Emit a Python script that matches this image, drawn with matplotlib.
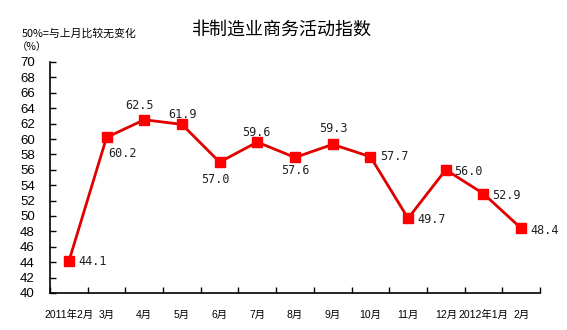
import matplotlib
matplotlib.use("Agg")
import matplotlib.pyplot as plt
import numpy as np

plt.rcParams['font.family'] = ['Liberation Sans', 'Noto Sans CJK SC', 'DejaVu Sans']

months = ["2011年2月", "3月", "4月", "5月", "6月", "7月", "8月", "9月",
          "10月", "11月", "12月", "2012年1月", "2月"]
index = [44.1, 60.2, 62.5, 61.9, 57.0, 59.6, 57.6, 59.3, 57.7, 49.7, 56.0, 52.9, 48.4]
# label offset in pixels (dx, dy) and horizontal alignment per point
label_pos = [(10, 0, 'left'), (2, -16, 'left'), (-5, 14, 'center'), (1, 10, 'center'),
             (-4, -17, 'center'), (-1, 10, 'center'), (0, -13, 'center'), (1, 16, 'center'),
             (10, 0, 'left'), (9, -1, 'left'), (8, -2, 'left'), (9, -2, 'left'), (9, -2, 'left')]
yticks = list(range(40, 71, 2))

fig = plt.figure(figsize=(5.67, 3.30), dpi=100)
ax = fig.add_axes([50 / 567, 37 / 330, 490 / 567, 231 / 330])

x = np.arange(len(months)) + 0.5
ax.plot(x, index, color='#E00000', lw=2, marker='s', ms=7.5,
        markerfacecolor='#FF0000', markeredgecolor='#FF0000', zorder=3)

for xi, v, (dx, dy, ha) in zip(x, index, label_pos):
    ax.annotate(f"{v:.1f}", (xi, v), xytext=(dx, dy), textcoords='offset pixels',
                ha=ha, va='center', fontsize=8.5, family='DejaVu Sans Mono',
                color='#222222')

ax.set_xlim(0, len(months))
ax.set_ylim(40, 70)
ax.set_yticks(yticks)
ax.set_xticks(np.arange(len(months) + 1))
ax.set_xticklabels([])
ax.set_xticks(x, minor=True)
ax.set_xticklabels(months, minor=True, fontsize=7.5)
ax.tick_params(axis='x', which='major', direction='in', length=4, width=1)
ax.tick_params(axis='x', which='minor', length=0, pad=12)
ax.tick_params(axis='y', direction='in', length=4, width=1, pad=11, labelsize=9.5)

for s in ('top', 'right'):
    ax.spines[s].set_visible(False)
for s in ('left', 'bottom'):
    ax.spines[s].set_linewidth(1.2)

fig.text(282 / 567, 1 - 30 / 330, "非制造业商务活动指数", ha='center', va='center',
         fontsize=13, family=['Noto Sans CJK SC'])
fig.text(22 / 567, 1 - 33 / 330, "50%=与上月比较无变化", ha='left', va='center',
         fontsize=7.8, family=['Noto Sans CJK SC'])
fig.text(17 / 567, 1 - 47 / 330, "（%）", ha='left', va='center',
         fontsize=7.5, family=['Noto Sans CJK SC'])

fig.savefig("out.png", dpi=100)
